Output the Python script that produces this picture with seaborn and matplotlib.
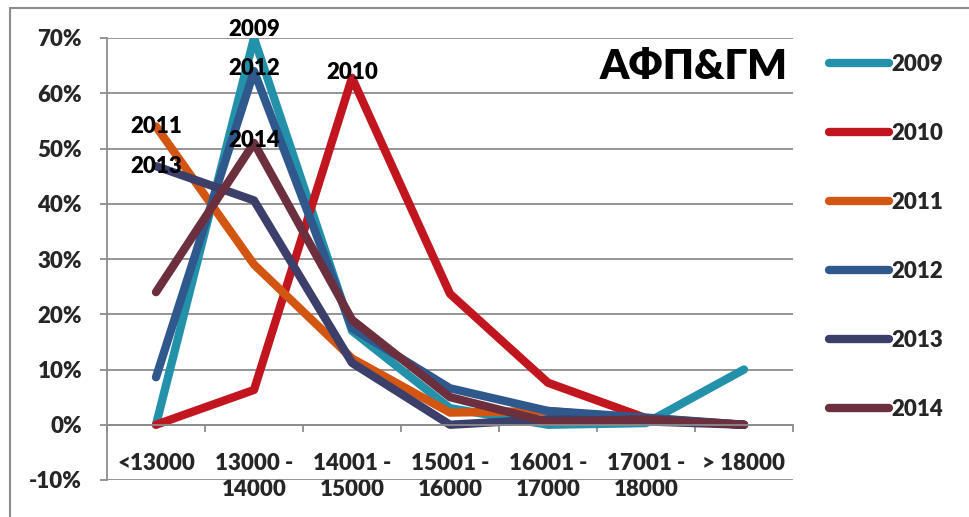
import matplotlib
matplotlib.use("Agg")
import matplotlib.pyplot as plt
import seaborn as sns
import pandas as pd
import numpy as np
from matplotlib.lines import Line2D
from matplotlib.ticker import FuncFormatter, FixedLocator

# ---- data ----
categories = ["<13000", "13000 -\n14000", "14001 -\n15000", "15001 -\n16000",
              "16001 -\n17000", "17001 -\n18000", "> 18000"]
years = ["2009", "2010", "2011", "2012", "2013", "2014"]
s2009 = [0.0, 70.0, 17.0, 3.0, 0.0, 0.3, 10.0]
s2010 = [0.0, 6.3, 62.8, 23.7, 7.6, 1.2, 0.0]
s2011 = [54.0, 29.0, 12.0, 2.2, 2.5, 1.0, 0.0]
s2012 = [8.6, 64.0, 17.5, 6.6, 2.5, 1.3, 0.0]
s2013 = [46.8, 40.6, 11.2, 0.0, 1.0, 0.6, 0.0]
s2014 = [24.0, 51.0, 19.0, 5.0, 0.5, 1.0, 0.0]
series = [s2009, s2010, s2011, s2012, s2013, s2014]
label_at = [1, 2, 0, 1, 0, 1]          # category index where each year label sits
label_dy = [6, 4, 0, 2, 0, 2]          # small vertical offset in points
yticks = [-10, 0, 10, 20, 30, 40, 50, 60, 70]
title = "АФП&ГМ"
colors = {"2009": "#2391A9", "2010": "#C1161F", "2011": "#D35512",
          "2012": "#2F588C", "2013": "#3C3F6A", "2014": "#6C2F3E"}

rows = []
for yr, vals in zip(years, series):
    for i, v in enumerate(vals):
        rows.append({"year": yr, "pos": i, "value": v / 100.0})
df = pd.DataFrame(rows)

sns.set_theme(style="white")
fam = ["Lato", "Noto Sans", "DejaVu Sans"]
plt.rcParams["font.family"] = fam
WT = "heavy"
plt.rcParams["font.weight"] = WT

fig = plt.figure(figsize=(9.69, 5.17), dpi=100)
ax = fig.add_axes([107 / 969, 1 - 480 / 517, (793 - 107) / 969, (480 - 38) / 517])

sns.lineplot(data=df, x="pos", y="value", hue="year", palette=colors, sort=False,
             linewidth=6, ax=ax, legend=False, estimator=None,
             solid_capstyle="round", solid_joinstyle="round")

ax.set_xlim(-0.5, len(categories) - 0.5)
ax.set_ylim(-0.1, 0.7)

gray = "#8C8C8C"
ax.yaxis.set_major_locator(FixedLocator([t / 100 for t in yticks]))
ax.yaxis.set_major_formatter(FuncFormatter(lambda v, p: f"{round(v*100):d}%"))
ax.grid(axis="y", color=gray, linewidth=1.3)
ax.grid(axis="x", visible=False)
ax.set_axisbelow(True)

for s in ["top", "right"]:
    ax.spines[s].set_visible(False)
ax.spines["left"].set_color(gray)
ax.spines["left"].set_linewidth(1.3)
ax.spines["bottom"].set_color(gray)
ax.spines["bottom"].set_linewidth(1.3)
ax.spines["bottom"].set_position(("data", 0))

ax.tick_params(axis="y", which="major", direction="out", length=5, width=1.3,
               color=gray, pad=13, labelsize=16, left=True)
ax.set_xticks(range(len(categories)))
ax.set_xticklabels(categories, fontsize=16, fontweight=WT, linespacing=1.35)
ax.set_xticks(np.arange(-0.5, len(categories), 1.0), minor=True)
ax.tick_params(axis="x", which="major", length=0, pad=20)
ax.tick_params(axis="x", which="minor", direction="out", length=5, width=1.3,
               color=gray, bottom=True)
for t in ax.get_yticklabels():
    t.set_fontweight(WT)
ax.set_xlabel("")
ax.set_ylabel("")

# year labels on the lines
for yr, vals, idx, dy in zip(years, series, label_at, label_dy):
    ax.annotate(yr, (idx, vals[idx] / 100.0), xytext=(0, dy), textcoords="offset points",
                ha="center", va="center", fontsize=16, fontweight=WT,
                color="black", annotation_clip=False, zorder=10)

# title inside plot
fig.text(788 / 969, 1 - 67 / 517, title, ha="right", va="center",
         fontsize=30, fontweight=WT, color="black")

# legend
handles = [Line2D([0], [0], color=colors[y], lw=6, solid_capstyle="round") for y in years]
fig.legend(handles, years, loc="upper left", bbox_to_anchor=(829 / 969, 1 - 54 / 517),
           bbox_transform=fig.transFigure, frameon=False, prop={"size": 16, "weight": WT},
           handlelength=2.7, handletextpad=0.12, labelspacing=2.16, borderpad=0,
           borderaxespad=0)

# chart frame
fig.add_artist(Line2D([10 / 969, 10 / 969], [0, 1 - 8 / 517], color="#8C8C8C", lw=1.5,
                      transform=fig.transFigure))
fig.add_artist(Line2D([10 / 969, 1], [1 - 8 / 517, 1 - 8 / 517], color="#8C8C8C", lw=1.5,
                      transform=fig.transFigure))

fig.savefig("out.png", dpi=100)
